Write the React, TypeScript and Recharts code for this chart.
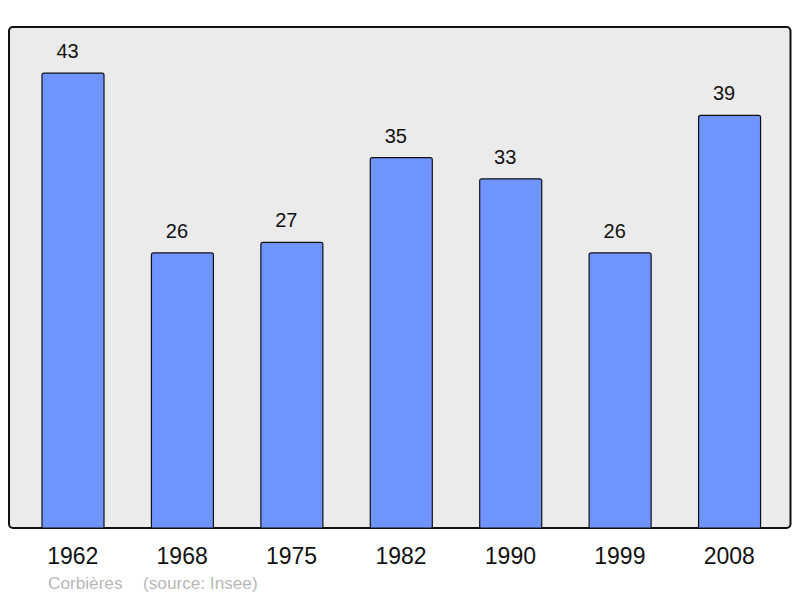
import React from 'react';
import { BarChart, Bar, XAxis, YAxis, LabelList } from 'recharts';

const years = ['1962', '1968', '1975', '1982', '1990', '1999', '2008'];
const population = [43, 26, 27, 35, 33, 26, 39];
const footerPlace = 'Corbières';
const footerSource = '(source: Insee)';

const data = years.map((y, i) => ({ year: y, value: population[i] }));

const FONT = '"Liberation Sans", Arial, Helvetica, sans-serif';

export default function App() {
  return (
    <div style={{ position: 'absolute', left: 0, top: 0, width: 800, height: 598 }}>
      <svg width={800} height={598} style={{ position: 'absolute', left: 0, top: 0 }}>
        <rect x={9} y={27} width={781.5} height={501} rx={4} ry={4} fill="#ebebeb" stroke="#111" strokeWidth={2} />
        <text x={48} y={589} fontSize={17.2} fill="#b8b8b8" fontFamily={FONT}>{footerPlace}</text>
        <text x={143} y={589} fontSize={17.2} fill="#b8b8b8" fontFamily={FONT}>{footerSource}</text>
      </svg>
      <div style={{ position: 'absolute', left: 0, top: 0 }}>
        <BarChart
          width={800}
          height={598}
          data={data}
          margin={{ top: 27, left: 9, right: 9.5, bottom: 30 }}
        >
          <XAxis
            dataKey="year"
            height={40}
            axisLine={false}
            tickLine={false}
            tickMargin={14}
            padding={{ left: 9, right: 6.5 }}
            tick={{ fontSize: 23, fill: '#111', fontFamily: FONT }}
            interval={0}
          />
          <YAxis hide domain={[0, 47.35]} />
          <Bar
            dataKey="value"
            fill="#7094ff"
            stroke="#111"
            strokeWidth={1.2}
            barSize={62}
            radius={[2, 2, 0, 0]}
            isAnimationActive={false}
          >
            <LabelList
              dataKey="value"
              position="top"
              offset={15}
              dx={-5.5}
              style={{ fontSize: 20, fill: '#111', fontFamily: FONT }}
            />
          </Bar>
        </BarChart>
      </div>
    </div>
  );
}
